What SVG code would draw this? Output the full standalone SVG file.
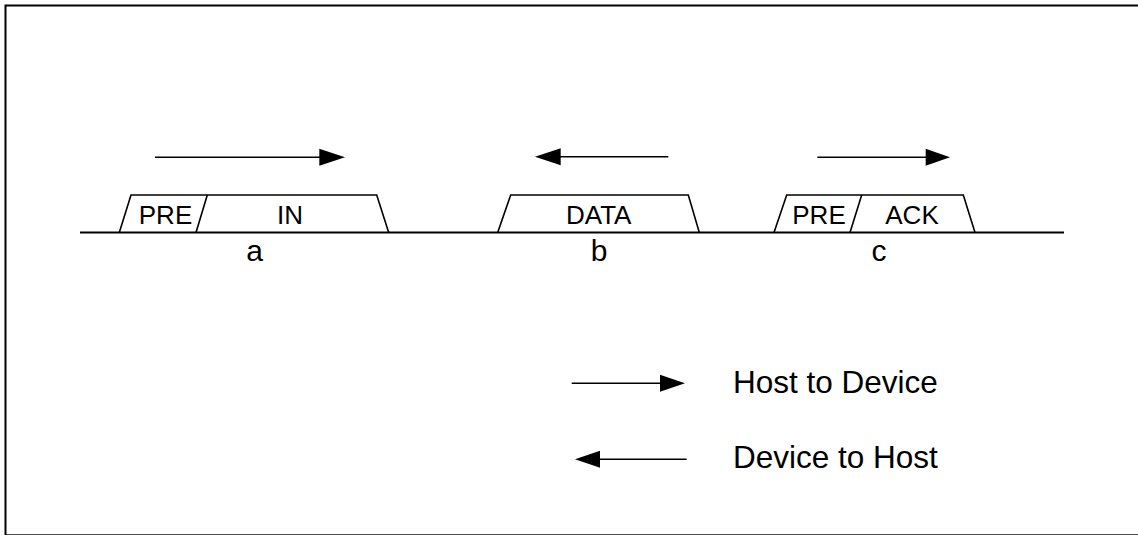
<svg xmlns="http://www.w3.org/2000/svg" width="1138" height="535" viewBox="0 0 1138 535">
<defs>
<style>
.t{font-family:"Liberation Sans",Arial,sans-serif;fill:#000}
.lbl{font-size:26px;text-anchor:middle}
.big{font-size:30px}
.leg{font-size:31.5px}
.mid{text-anchor:middle}
.shape{fill:none;stroke:#000;stroke-width:1.6;stroke-linejoin:miter}
.arr{stroke:#000;stroke-width:1.6;fill:none}
.head{fill:#000;stroke:none}
</style>
</defs>
<rect x="0" y="0" width="1138" height="535" fill="#fff"/>
<rect x="5.5" y="5.5" width="1140" height="529.8" fill="none" stroke="#000" stroke-width="2"/>
<g id="timeline">
<line x1="80" y1="232.5" x2="1064" y2="232.5" stroke="#000" stroke-width="2"/>
</g>
<g id="packet-a">
<path class="shape" d="M119.3,232.5 L131,195 L376.7,195 L388.7,232.5 M196,232.5 L207.3,195"/>
<text class="t lbl" x="165.5" y="224">PRE</text>
<text class="t lbl" x="290" y="224">IN</text>
<text class="t big mid" x="254.5" y="261">a</text>
</g>
<g id="packet-b">
<path class="shape" d="M497.7,232.5 L510.7,195 L688.3,195 L699.3,232.5"/>
<text class="t lbl" x="598.7" y="224">DATA</text>
<text class="t big mid" x="599" y="261">b</text>
</g>
<g id="packet-c">
<path class="shape" d="M774,232.5 L786.7,195 L963.3,195 L975,232.5 M850,232.5 L861.7,195"/>
<text class="t lbl" x="819" y="224">PRE</text>
<text class="t lbl" x="912" y="224">ACK</text>
<text class="t big mid" x="879" y="261">c</text>
</g>
<g id="legend">
<text class="t leg" x="733" y="393.3">Host to Device</text>
<text class="t leg" x="733" y="467.7">Device to Host</text>
</g>
<g id="connectors">
<line class="arr" x1="155" y1="157.3" x2="322" y2="157.3"/>
<polygon class="head" points="345,157.3 319.3,148.8 319.3,165.8"/>
<line class="arr" x1="668.3" y1="156.7" x2="558" y2="156.7"/>
<polygon class="head" points="535,156.7 560.7,148.2 560.7,165.2"/>
<line class="arr" x1="817.3" y1="157.3" x2="928" y2="157.3"/>
<polygon class="head" points="950,157.3 925.7,148.8 925.7,165.8"/>
<line class="arr" x1="571.7" y1="383.3" x2="662" y2="383.3"/>
<polygon class="head" points="685,383.3 660,374.8 660,391.8"/>
<line class="arr" x1="686.7" y1="459.3" x2="598" y2="459.3"/>
<polygon class="head" points="575,459.3 600,450.8 600,467.8"/>
</g>
</svg>
